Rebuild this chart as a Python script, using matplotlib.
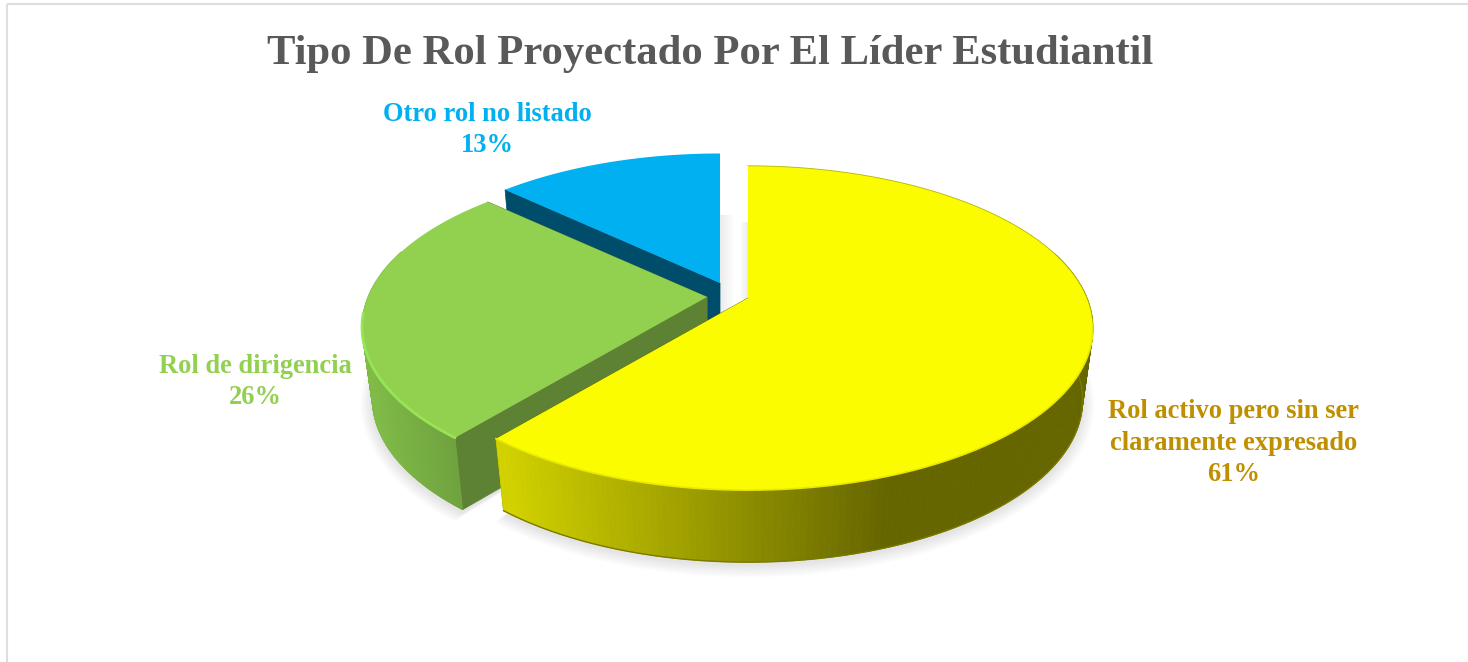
import numpy as np
import matplotlib
matplotlib.use("Agg")
import matplotlib.pyplot as plt
from matplotlib.patches import Polygon, Rectangle
from matplotlib.colors import to_rgb

categories = ["Rol activo pero sin ser\nclaramente expresado", "Rol de dirigencia", "Otro rol no listado"]
percent = [61, 26, 13]
top_colors = ["#fcfc00", "#92d050", "#00b0f0"]
text_colors = ["#bf8f00", "#92d050", "#00b0f0"]
title = "Tipo De Rol Proyectado Por El Líder Estudiantil"

# pixel position of each slice's tip after the explosion
tips = [(748, 298), (707, 297), (720, 283)]
radius_scale = [1.0, 1.0, 0.98]
label_pos = [(1234, 443), (255, 382), (487, 130)]

A, B, P = 339.0, 156.6, 0.185
DEPTH = 72
BOTTOM_SX = 0.97


def project(theta, tip, scale=1.0, bottom=False):
    x, y = np.sin(theta), np.cos(theta)
    w = 1 + P * y
    u = scale * A * x / w
    v = -scale * B * y / w
    if bottom:
        return tip[0] + BOTTOM_SX * u, tip[1] + v + DEPTH
    return tip[0] + u, tip[1] + v


def mix(c1, c2, t):
    c1, c2 = np.array(to_rgb(c1)), np.array(to_rgb(c2))
    return tuple(c1 + (c2 - c1) * t)


def wall_color(i, px):
    if i == 0:
        t = np.clip((px - 503) / (885 - 503), 0, 1)
        return mix("#d2d200", "#666600", t)
    if i == 1:
        t = np.clip((px - 370) / (465 - 370), 0, 1)
        return mix("#80bb48", "#6c9f3c", t)
    return "#004c6b"


fig = plt.figure(figsize=(14.68, 6.62), dpi=100)
ax = fig.add_axes([0, 0, 1, 1])
ax.set_xlim(0, 1468)
ax.set_ylim(662, 0)
ax.axis("off")

# chart frame
ax.add_patch(Rectangle((6.5, 3.5), 1500, 700, fill=False, ec="#dedede", lw=1.5))

# faint shadow in the gap between blue and yellow
for k in range(1, 11):
    ax.fill_betweenx([215, 320], 720, 720 + k * 1.4, color="#000000", alpha=0.008, lw=0, zorder=1)
    ax.fill_betweenx([222, 300], 748 - k * 0.8, 748, color="#000000", alpha=0.008, lw=0, zorder=1)

fracs = np.array(percent) / sum(percent)
starts = np.concatenate([[0], np.cumsum(fracs)[:-1]]) * 2 * np.pi
ends = np.cumsum(fracs) * 2 * np.pi
cut_walls = ["#666600", "#5d8233", "#004c6b"]

# back to front: blue, green, yellow
for i in [2, 1, 0]:
    tip = tips[i]
    sc = radius_scale[i]
    th = np.linspace(starts[i], ends[i], 240)
    tx, ty = project(th, tip, sc)
    bx, by = project(th, tip, sc, bottom=True)

    # soft shadow under the slice
    for k in range(9):
        grow = 12 - k * 1.4
        sx = tip[0] + (bx - tip[0]) * (1 + grow / 340)
        sy = tip[1] + DEPTH + (by - tip[1] - DEPTH) * (1 + grow / 190) + 3
        pts = np.column_stack([np.r_[tip[0], sx], np.r_[tip[1] + DEPTH, sy]])
        ax.add_patch(Polygon(pts, closed=True, fc="#000000", ec="none", alpha=0.012, zorder=i * -3 + 10))

    z = (2 - i) * 3 + 11

    # straight cut faces, the one pointing straight back never shows
    for e in [ends[i], starts[i]]:
        if np.cos(e) > 0.99:
            continue
        cx, cy = project(e, tip, sc)
        dx, dy = project(e, tip, sc, bottom=True)
        pts = [tip, (cx, cy), (dx, dy), (tip[0], tip[1] + DEPTH)]
        ax.add_patch(Polygon(pts, closed=True, fc=cut_walls[i], ec=cut_walls[i], lw=0.5, zorder=z))

    # curved wall, cut in strips so the colour can follow the x position
    for k in range(len(th) - 1):
        if np.cos(th[k]) > 0.3:
            continue
        pts = [(tx[k], ty[k]), (tx[k + 1], ty[k + 1]), (bx[k + 1], by[k + 1]), (bx[k], by[k])]
        c = wall_color(i, (tx[k] + tx[k + 1]) / 2)
        ax.add_patch(Polygon(pts, closed=True, fc=c, ec=c, lw=0.6, zorder=z + 1))

    # top face
    pts = np.column_stack([np.r_[tip[0], tx], np.r_[tip[1], ty]])
    ax.add_patch(Polygon(pts, closed=True, fc=top_colors[i], ec="none", zorder=z + 2))

    # bevel along the rim, only on the front part
    if i == 0:
        front = ty > tip[1] + 25
        ax.plot(tx[front], ty[front], color="#e8e800", lw=1.2, zorder=z + 2)
        ax.plot(tx[~front], ty[~front], color="#b4b400", lw=0.6, zorder=z + 2)
        ax.plot(bx[np.cos(th) < 0.3], by[np.cos(th) < 0.3], color="#7a7a00", lw=1.0, zorder=z + 1)
    if i == 1:
        front = ty > tip[1] + 15
        ax.plot(tx[front], ty[front], color="#98e457", lw=2.0, zorder=z + 2, solid_capstyle="round")

plt.rcParams["font.family"] = ["Liberation Serif", "DejaVu Serif"]

ax.text(710, 54, title, fontsize=30.7, fontweight="bold", color="#595959",
        ha="center", va="center", zorder=30)

for i in range(len(categories)):
    ax.text(label_pos[i][0], label_pos[i][1], categories[i] + "\n" + str(percent[i]) + "%",
            fontsize=19.1, fontweight="bold", color=text_colors[i], ha="center", va="center",
            linespacing=1.33, multialignment="center", zorder=30)

fig.savefig("out.png", dpi=100, facecolor="white")
